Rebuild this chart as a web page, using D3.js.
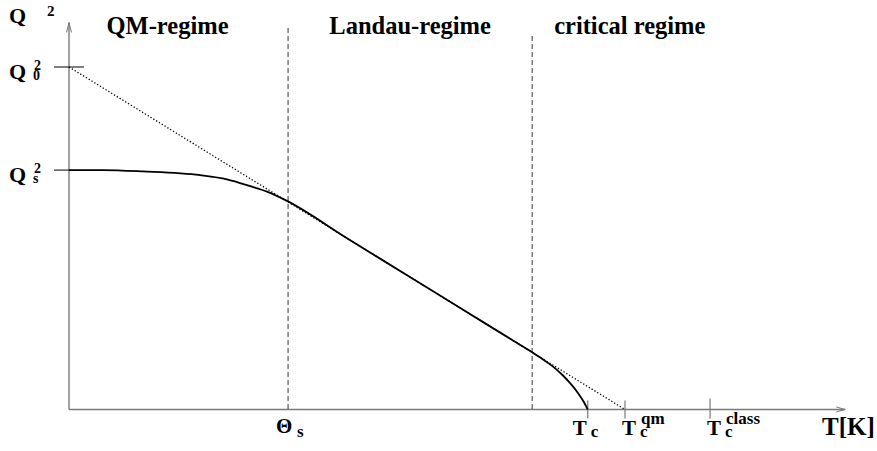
<!DOCTYPE html>
<html>
<head>
<meta charset="utf-8">
<script src="https://cdn.jsdelivr.net/npm/d3@7"></script>
<style>
  body { margin: 0; background: #fff; }
</style>
</head>
<body>
<svg id="chart" width="877" height="451"></svg>
<script>
// regime names and the temperatures that separate them (T in units of Tc^qm)
var regimes = ["QM-regime", "Landau-regime", "critical regime"];
var boundaryT = [0.394, 0.833];

// marked temperatures on the T axis
var tickT = [0.933, 1.0, 1.153];
var tickSup = ["", "qm", "class"];

// marked levels on the Q^2 axis
var qLevels = [1.0, 0.699];
var qSub = ["0", "s"];

// order parameter Q^2(T), solid curve
var curveT = [0, 0.061, 0.133, 0.236, 0.284, 0.326, 0.356, 0.392, 0.5, 0.6, 0.7, 0.8, 0.833, 0.852, 0.870, 0.888, 0.904, 0.916, 0.926, 0.933];
var curveQ = [0.699, 0.699, 0.695, 0.684, 0.672, 0.652, 0.636, 0.609, 0.5, 0.4, 0.3, 0.2, 0.167, 0.147, 0.126, 0.100, 0.072, 0.047, 0.022, 0];

// classical Landau line, dotted
var landauT = [0, 1];
var landauQ = [1, 0];

// axis extents
var tMax = 1.396, qMax = 1.13;

var font = "'Liberation Serif', 'DejaVu Serif', 'Times New Roman', serif";

var svg = d3.select("#chart");

var x = d3.scaleLinear().domain([0, 1]).range([69, 625]);
var y = d3.scaleLinear().domain([0, 1]).range([409.5, 67]);

var axisColor = "#7a7a7a";

function label(xx, yy, size, str) {
  return svg.append("text")
      .attr("x", xx).attr("y", yy)
      .attr("font-family", font)
      .attr("font-weight", "bold")
      .attr("font-size", size)
      .attr("fill", "#000")
      .text(str);
}

// base letter with stacked super/subscripts, kept in one text element
function scripted(xx, yy, size, base, sx, sup, supY, sub, subY, ssize) {
  var t = label(xx, yy, size, base);
  if (sub) t.append("tspan").attr("x", xx + sx).attr("y", subY).attr("font-size", ssize).text(sub);
  if (sup) t.append("tspan").attr("x", xx + sx + (sub ? 1 : 0)).attr("y", supY).attr("font-size", ssize).text(sup);
  return t;
}

// axes with arrows
svg.append("line")
    .attr("x1", x(0)).attr("x2", x(tMax))
    .attr("y1", y(0)).attr("y2", y(0))
    .attr("stroke", axisColor).attr("stroke-width", 1.4);
svg.append("line")
    .attr("x1", x(0)).attr("x2", x(0))
    .attr("y1", y(0)).attr("y2", y(qMax))
    .attr("stroke", axisColor).attr("stroke-width", 1.4);
svg.append("path")
    .attr("d", "M" + (x(tMax) - 9) + "," + (y(0) - 2.5) + "L" + x(tMax) + "," + y(0) + "L" + (x(tMax) - 9) + "," + (y(0) + 2.5))
    .attr("fill", "none").attr("stroke", axisColor).attr("stroke-width", 1);
svg.append("path")
    .attr("d", "M" + (x(0) - 2.5) + "," + (y(qMax) + 10) + "L" + x(0) + "," + y(qMax) + "L" + (x(0) + 2.5) + "," + (y(qMax) + 10))
    .attr("fill", "none").attr("stroke", axisColor).attr("stroke-width", 1);

// regime boundaries
svg.selectAll("line.bound")
  .data(boundaryT)
  .enter().append("line")
    .attr("class", "bound")
    .attr("x1", function(d) { return x(d); })
    .attr("x2", function(d) { return x(d); })
    .attr("y1", function(d, i) { return i == 0 ? 28 : 36; })
    .attr("y2", y(0))
    .attr("stroke", "#333").attr("stroke-width", 1)
    .attr("stroke-dasharray", "5,3");

// T-axis ticks
svg.selectAll("line.tick")
  .data(tickT)
  .enter().append("line")
    .attr("class", "tick")
    .attr("x1", function(d) { return x(d); })
    .attr("x2", function(d) { return x(d); })
    .attr("y1", function(d, i) { return y(0) - (i == 2 ? 11 : 9); })
    .attr("y2", y(0) + 9)
    .attr("stroke", axisColor).attr("stroke-width", 1.2);

// Q-axis ticks
svg.selectAll("line.qtick")
  .data(qLevels)
  .enter().append("line")
    .attr("class", "qtick")
    .attr("x1", x(0) - 15)
    .attr("x2", function(d, i) { return i == 0 ? x(0) + 15 : x(0); })
    .attr("y1", function(d) { return y(d); })
    .attr("y2", function(d) { return y(d); })
    .attr("stroke", "#000").attr("stroke-width", 1);

// dotted Landau extrapolation
var landau = d3.line()
    .x(function(d) { return x(d[0]); })
    .y(function(d) { return y(d[1]); });
svg.append("path")
    .datum(d3.zip(landauT, landauQ))
    .attr("d", landau)
    .attr("fill", "none").attr("stroke", "#000")
    .attr("stroke-width", 1.3).attr("stroke-dasharray", "1.3,2");

// order parameter
var line = d3.line()
    .curve(d3.curveMonotoneX)
    .x(function(d) { return x(d[0]); })
    .y(function(d) { return y(d[1]); });
svg.append("path")
    .datum(d3.zip(curveT, curveQ))
    .attr("d", line)
    .attr("fill", "none").attr("stroke", "#000").attr("stroke-width", 1.8);

// regime titles
var titleX = [(x(0) + x(boundaryT[0])) / 2 - 11, (x(boundaryT[0]) + x(boundaryT[1])) / 2, x(boundaryT[1]) + 22];
var titleAnchor = ["middle", "middle", "start"];
regimes.forEach(function(r, i) {
  label(titleX[i], 34, 24.5, r).attr("text-anchor", titleAnchor[i]);
});

// Q^2 axis title
scripted(9, 23, 22, "Q", 38, "2", 16, "", 0, 15);

// Q level labels
qLevels.forEach(function(q, i) {
  var yy = y(q);
  scripted(9, yy + 12, 22, "Q", 24, "2", yy + 3, qSub[i], yy + 13, 14);
});

// Theta_s label
scripted(x(boundaryT[0]) - 12, 433, 21, "\u0398", 21, "", 0, "s", 437, 17);

// T_c labels
var labelDx = [-15, -3, -3];
tickT.forEach(function(t, i) {
  var xx = x(t) + labelDx[i];
  scripted(xx, 435, 21, "T", 18, tickSup[i], 424, "c", 437, 17);
});

// T axis title
label(822, 435, 25, "T[K]");
</script>
</body>
</html>
